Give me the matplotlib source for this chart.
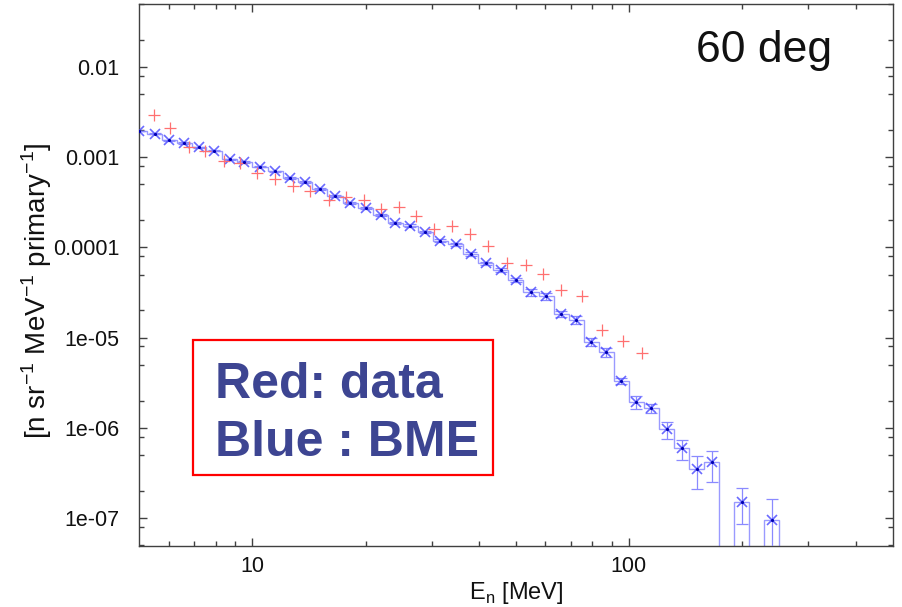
import numpy as np
import matplotlib
matplotlib.use("Agg")
import matplotlib.pyplot as plt
from matplotlib.patches import Rectangle
from matplotlib.ticker import FixedLocator, NullFormatter

plt.rcParams['font.family'] = ['Liberation Sans', 'DejaVu Sans']

# BME calculation (blue), bin centres in MeV
bme_energy = [5.0, 5.5, 6.0, 6.6, 7.2, 7.9, 8.7, 9.5, 10.5, 11.5, 12.6, 13.8,
              15.1, 16.6, 18.2, 20.0, 21.9, 24.0, 26.3, 28.8, 31.6, 34.7, 38.0,
              41.7, 45.7, 50.1, 55.0, 60.3, 66.1, 72.4, 79.4, 87.1, 95.5, 104.7,
              114.8, 125.9, 138.0, 151.4, 166.0, 182.0, 199.5, 218.8, 239.9]
bme_flux = [1.95e-3, 1.82e-3, 1.55e-3, 1.44e-3, 1.29e-3, 1.18e-3, 9.5e-4,
            8.85e-4, 7.85e-4, 6.98e-4, 5.93e-4, 5.31e-4, 4.41e-4, 3.71e-4,
            3.13e-4, 2.74e-4, 2.29e-4, 1.87e-4, 1.74e-4, 1.48e-4, 1.19e-4,
            1.08e-4, 8.5e-5, 6.67e-5, 5.61e-5, 4.35e-5, 3.18e-5, 2.89e-5,
            1.83e-5, 1.58e-5, 9.0e-6, 6.87e-6, 3.3e-6, 1.95e-6, 1.64e-6,
            9.6e-7, 6.0e-7, 3.49e-7, 4.14e-7, 0.0, 1.52e-7, 0.0, 9.5e-8]
bme_err_lo = [2e-5, 2e-5, 2e-5, 2e-5, 2e-5, 2e-5, 1.5e-5, 1.5e-5, 1.5e-5,
              1.5e-5, 1.2e-5, 1.2e-5, 1e-5, 1e-5, 8e-6, 8e-6, 7e-6, 6e-6,
              6e-6, 5e-6, 5e-6, 5e-6, 4e-6, 3e-6, 3e-6, 2.5e-6, 2.5e-6,
              2.5e-6, 1.5e-6, 1.5e-6, 1e-6, 8e-7, 2.5e-7, 3.5e-7, 1.9e-7,
              2.1e-7, 1.6e-7, 1.4e-7, 1.6e-7, 0.0, 6.6e-8, 0.0, 6.5e-8]
bme_err_hi = [2e-5, 2e-5, 2e-5, 2e-5, 2e-5, 2e-5, 1.5e-5, 1.5e-5, 1.5e-5,
              1.5e-5, 1.2e-5, 1.2e-5, 1e-5, 1e-5, 8e-6, 8e-6, 7e-6, 6e-6,
              6e-6, 5e-6, 5e-6, 5e-6, 4e-6, 3e-6, 3e-6, 2.5e-6, 2.5e-6,
              2.5e-6, 1.5e-6, 1.5e-6, 1e-6, 8e-7, 2.5e-7, 3.2e-7, 2.0e-7,
              2.0e-7, 1.4e-7, 1.38e-7, 1.43e-7, 0.0, 6.5e-8, 0.0, 6.8e-8]

# measured data (red)
data_energy = [5.47, 6.05, 6.77, 7.50, 8.39, 9.29, 10.29, 11.51, 12.83, 14.27,
               15.96, 17.78, 19.77, 22.03, 24.49, 27.22, 30.35, 33.88, 37.84,
               42.26, 47.56, 53.21, 59.30, 66.22, 74.99, 85.11, 96.35, 108.1]
data_flux = [2.91e-3, 2.09e-3, 1.31e-3, 1.18e-3, 9.08e-4, 8.56e-4, 6.73e-4,
             5.69e-4, 4.80e-4, 4.26e-4, 3.35e-4, 3.65e-4, 3.35e-4, 2.64e-4,
             2.78e-4, 2.25e-4, 1.59e-4, 1.73e-4, 1.40e-4, 1.04e-4, 6.67e-5,
             6.34e-5, 5.04e-5, 3.37e-5, 2.89e-5, 1.21e-5, 9.29e-6, 6.70e-6]

y_ticks = [1e-2, 1e-3, 1e-4, 1e-5, 1e-6, 1e-7]
y_labels = ['0.01', '0.001', '0.0001', '1e-05', '1e-06', '1e-07']
x_ticks = [10, 100]
x_labels = ['10', '100']

e = np.array(bme_energy)
f = np.array(bme_flux)
mid = np.sqrt(e[:-1] * e[1:])
edges = np.concatenate([[e[0] ** 2 / mid[0]], mid, [e[-1] ** 2 / mid[-1]]])

fig = plt.figure(figsize=(9.03, 6.07), dpi=100)
ax = fig.add_axes([139 / 903, 1 - 546 / 607, 754 / 903, 542 / 607])

floor = 1e-12
ax.stairs(np.where(f > 0, f, floor), edges, baseline=floor,
          color='#9a9aff', lw=1.0, zorder=2)
ok = f > 0
ax.errorbar(e[ok], f[ok], yerr=[np.array(bme_err_lo)[ok], np.array(bme_err_hi)[ok]],
            fmt='none', ecolor='#8a8aff', elinewidth=0.9, capsize=4, capthick=0.9,
            zorder=3)
ax.plot(e[ok], f[ok], 'x', color='#5050ff', ms=7.5, mew=1.2, alpha=0.85, zorder=4)
ax.plot(e[ok], f[ok], '.', color='#0000b0', ms=2.5, zorder=5)

ax.plot(data_energy, data_flux, '+', color='#ff7070', ms=8, mew=0.9, zorder=4)

ax.set_xscale('log')
ax.set_yscale('log')
ax.set_xlim(5, 503)
ax.set_ylim(4.9e-8, 0.05)

ax.set_xticks(x_ticks, x_labels)
ax.set_yticks(y_ticks, y_labels)
ax.xaxis.set_minor_locator(FixedLocator(
    [6, 7, 8, 9, 20, 30, 40, 50, 60, 70, 80, 90, 200, 300, 400]))
ax.yaxis.set_minor_locator(FixedLocator(
    [m * 10.0 ** p for p in range(-8, -1) for m in (2, 5, 8)]))
ax.xaxis.set_minor_formatter(NullFormatter())
ax.yaxis.set_minor_formatter(NullFormatter())

for s in ax.spines.values():
    s.set_color('#404040')
    s.set_linewidth(1.0)
ax.tick_params(which='both', direction='in', top=True, right=True,
               color='#404040', width=1.0, labelsize=15.5, labelcolor='#111111')
ax.tick_params(which='major', length=6)
ax.tick_params(which='minor', length=3.5)
ax.tick_params(axis='y', which='major', pad=14)
ax.tick_params(axis='x', which='major', pad=7)

ax.set_xlabel('E$_\\mathregular{n}$ [MeV]', fontsize=17, labelpad=2, color='#111111')
ax.set_ylabel('[n sr$^\\mathregular{-1}$ MeV$^\\mathregular{-1}$ primary$^\\mathregular{-1}$]',
              fontsize=20, labelpad=0, color='#111111')
ax.yaxis.set_label_coords(-0.113, 0.47)

ax.text(0.919, 0.893, '60 deg', transform=ax.transAxes, ha='right',
        va='baseline', fontsize=32, color='#111111')

# annotation box
fig.patches.append(Rectangle((193 / 903, 1 - 475 / 607), 300 / 903, 135 / 607,
                             transform=fig.transFigure, fill=False,
                             edgecolor='#ff0000', lw=1.6))
fig.text(215 / 903, 1 - 398 / 607, 'Red: data', fontsize=36, fontweight='bold',
         color='#3d4592', va='baseline')
fig.text(215 / 903, 1 - 456 / 607, 'Blue : BME', fontsize=36, fontweight='bold',
         color='#3d4592', va='baseline')

fig.savefig('out.png', dpi=100)
